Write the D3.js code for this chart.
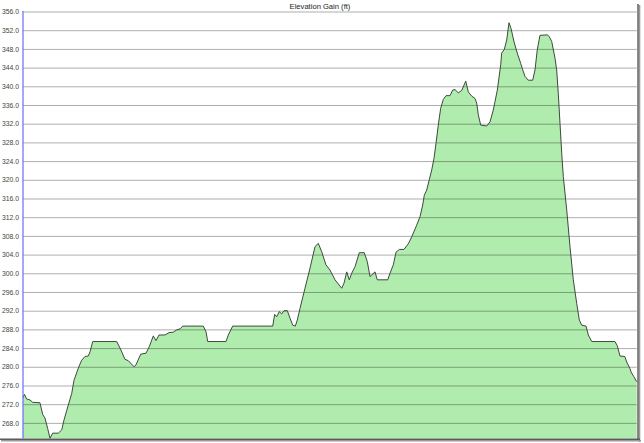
<!DOCTYPE html>
<html>
<head>
<meta charset="utf-8">
<script src="https://cdn.jsdelivr.net/npm/d3@7"></script>
<style>
  html, body { margin: 0; padding: 0; background: #fff; }
  svg { display: block; }
</style>
</head>
<body>
<div id="chart"></div>
<script>
// Route position (% of route) and elevation gain (ft)
const distance = [0, 0.24, 0.60, 1.14, 1.58, 2.77, 3.21, 3.59, 4.02, 4.40, 4.84, 5.75, 6.31, 6.68, 7.38, 7.94, 8.31, 9.01, 9.56, 10.10,
  10.64, 10.92, 11.36, 15.27, 15.81, 16.62, 17.16, 18.09, 18.41, 19.18, 20.04, 20.58, 21.23, 21.67, 22.16, 23.14, 23.79, 24.49, 25.04, 25.58,
  26.02, 29.38, 29.82, 30.10, 33.08, 33.45, 34.17, 40.69, 41.01, 41.34, 41.76, 42.15, 42.53, 43.07, 43.51, 43.95, 44.37, 44.70, 45.14, 45.95,
  46.77, 47.58, 48.12, 48.67, 49.37, 50.02, 50.84, 51.93, 52.31, 52.75, 53.17, 53.56, 54.10, 54.80, 55.61, 56.10, 56.54, 57.36, 57.73, 59.43,
  59.80, 60.34, 60.78, 61.32, 62.08, 62.78, 63.34, 64.15, 64.69, 65.13, 65.39, 65.78, 66.20, 66.60, 66.97, 67.30, 67.67, 68.06, 68.49, 68.93,
  69.58, 70.02, 70.39, 70.93, 71.48, 72.14, 72.56, 73.11, 73.65, 73.93, 74.19, 74.58, 75.56, 76.10, 76.63, 77.29, 77.84, 78.00, 78.43, 78.82,
  79.19, 79.52, 80.01, 80.54, 81.10, 81.43, 81.80, 82.34, 83.05, 83.43, 83.80, 84.24, 85.47, 85.76, 86.15, 86.69, 86.96, 87.22, 87.50, 87.78,
  88.04, 88.60, 89.13, 89.67, 90.22, 90.65, 91.04, 91.74, 92.12, 92.67, 96.46, 96.84, 97.28, 98.06, 98.44, 98.88, 99.15, 99.53, 100];
const elevation = [273.4, 274.1, 273.1, 272.9, 272.4, 272.3, 269.8, 269.0, 266.8, 264.7, 265.8, 265.8, 266.5, 268.6, 271.8, 274.3, 277.1, 279.7, 281.4, 282.2,
  282.3, 283.2, 285.4, 285.4, 284.0, 281.6, 281.3, 280.0, 280.4, 282.7, 282.9, 284.3, 286.6, 285.6, 286.8, 286.8, 287.3, 287.4, 287.9, 288.1,
  288.7, 288.7, 287.5, 285.4, 285.4, 286.8, 288.7, 288.7, 291.2, 290.7, 291.8, 291.3, 292.0, 292.0, 290.4, 288.9, 288.7, 290.0, 292.5, 296.8,
  301.1, 305.7, 306.4, 304.6, 301.8, 300.7, 298.6, 296.8, 297.9, 300.3, 298.6, 300.0, 301.4, 304.4, 304.4, 302.5, 299.3, 300.3, 298.6, 298.6,
  300.0, 301.8, 304.5, 305.1, 305.1, 306.3, 307.8, 310.3, 312.1, 314.6, 316.7, 317.8, 320.0, 322.1, 324.6, 327.8, 331.7, 335.3, 337.2, 338.0,
  338.0, 339.2, 339.3, 338.6, 339.1, 341.1, 338.8, 337.9, 337.4, 336.4, 333.9, 331.7, 331.5, 332.4, 334.9, 339.2, 344.6, 347.1, 347.9, 349.9,
  353.6, 352.4, 349.5, 347.1, 344.9, 343.5, 342.1, 341.3, 341.3, 343.5, 347.8, 350.9, 351.0, 350.6, 349.6, 346.0, 343.5, 338.5, 332.1, 325.7,
  320.7, 313.5, 305.7, 298.6, 293.6, 290.0, 288.9, 288.7, 286.8, 285.4, 285.4, 284.5, 282.3, 282.2, 280.8, 279.7, 278.7, 277.9, 276.8];
const yTicks = [268, 272, 276, 280, 284, 288, 292, 296, 300, 304, 308, 312, 316, 320, 324, 328, 332, 336, 340, 344, 348, 352, 356];
const title = "Elevation Gain (ft)";

const W = 644, H = 443;
const margin = { top: 11.5, right: 7.3, bottom: 4.7, left: 23 };
const yMin = 264.7, yMax = 356;

const data = distance.map((d, i) => ({ d, v: elevation[i] }));

const svg = d3.select("#chart").append("svg").attr("width", W).attr("height", H);

const x = d3.scaleLinear().domain([0, 100]).range([margin.left, W - margin.right]);
const y = d3.scaleLinear().domain([yMin, yMax]).range([H - margin.bottom, margin.top]);

// area fill
const area = d3.area().x(p => x(p.d)).y0(y(yMin)).y1(p => y(p.v));
svg.append("path").datum(data).attr("d", area).attr("fill", "#b0ecad");

// gridlines on top of fill
const axisG = svg.append("g").attr("transform", `translate(${margin.left},0)`)
  .call(d3.axisLeft(y).tickValues(yTicks).tickFormat(d3.format(".1f"))
    .tickSize(-(W - margin.right - margin.left)).tickPadding(4));
axisG.select(".domain").remove();
axisG.selectAll(".tick line").attr("stroke", "rgba(0,0,0,0.32)").attr("stroke-width", 1);
axisG.selectAll(".tick text").attr("fill", "#444").attr("font-size", "6.8px")
  .attr("font-family", "'Liberation Sans', Arial, sans-serif");

// outline
const line = d3.line().x(p => x(p.d)).y(p => y(p.v));
svg.append("path").datum(data).attr("d", line).attr("fill", "none")
  .attr("stroke", "#3d4a3d").attr("stroke-width", 1).attr("stroke-linejoin", "round");

// blue vertical axis line
svg.append("line").attr("x1", margin.left).attr("x2", margin.left)
  .attr("y1", margin.top - 0.5).attr("y2", H - margin.bottom)
  .attr("stroke", "#6b6bff").attr("stroke-width", 1.2);

// title
svg.append("text").attr("x", 320).attr("y", 9).attr("text-anchor", "middle")
  .attr("font-size", "7.6px").attr("fill", "#222")
  .attr("font-family", "'Liberation Sans', Arial, sans-serif").text(title);

// drop-shadow frame (right and bottom)
const sh = svg.append("g");
sh.append("rect").attr("x", 637.3).attr("y", 4).attr("width", 1.5).attr("height", 437).attr("fill", "#5a5a5a");
sh.append("rect").attr("x", 638.8).attr("y", 5).attr("width", 1.5).attr("height", 437).attr("fill", "#9a9a9a");
sh.append("rect").attr("x", 0).attr("y", 438.5).attr("width", 640).attr("height", 1.5).attr("fill", "#5a5a5a");
sh.append("rect").attr("x", 1).attr("y", 440).attr("width", 640).attr("height", 1.5).attr("fill", "#9a9a9a");
</script>
</body>
</html>
